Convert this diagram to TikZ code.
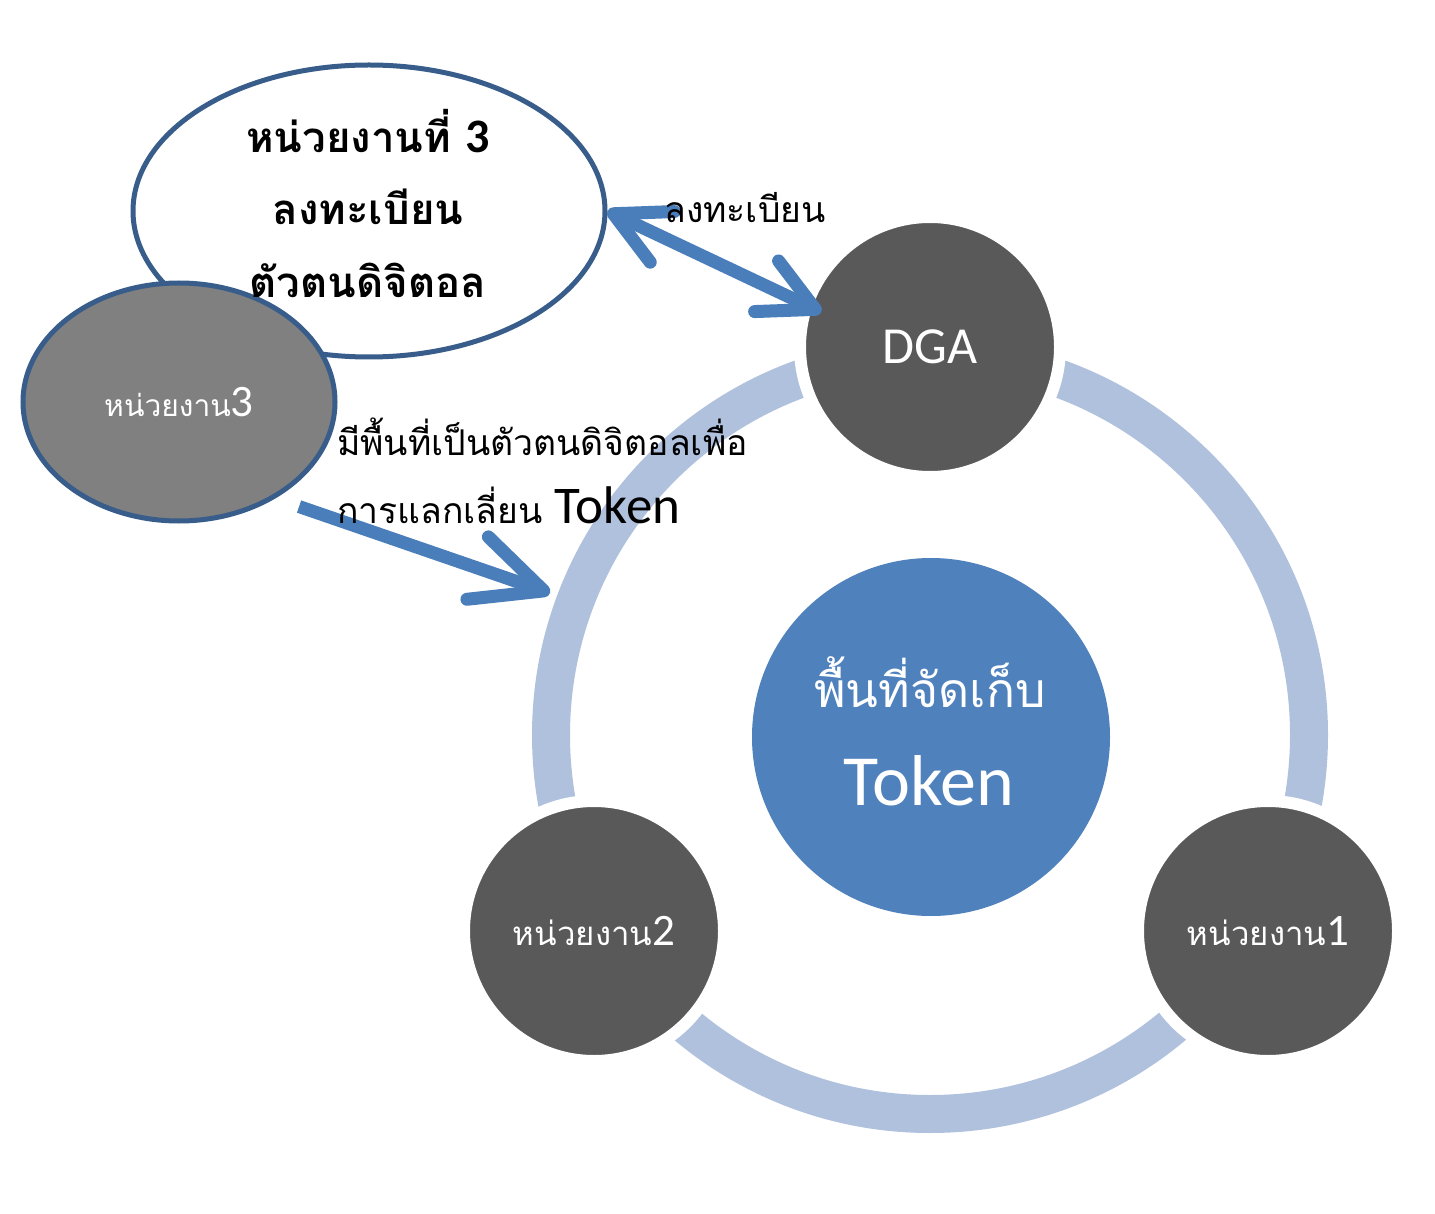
\documentclass[tikz,border=0pt]{standalone}
\usepackage{fontspec}
\newfontfamily\thai[Script=Thai]{Loma}
\newfontfamily\lat{Carlito}
\usetikzlibrary{arrows.meta,shapes.geometric}
\definecolor{ringc}{RGB}{176,193,222}
\definecolor{darkc}{RGB}{89,89,89}
\definecolor{bluec}{RGB}{79,129,189}
\definecolor{edgec}{RGB}{56,93,138}
\definecolor{greyc}{RGB}{128,128,128}
\definecolor{arrowc}{RGB}{74,126,187}
\tikzset{
  member/.style={circle, fill=darkc, draw=white, line width=12pt, minimum size=260pt, inner sep=0pt, text=white},
  thick arrow/.style={draw=arrowc, line width=13pt},
  labeltext/.style={inner sep=0pt, anchor=base},
}
\begin{document}
\begin{tikzpicture}[x=1pt,y=-1pt]
\useasboundingbox (0,0) rectangle (1435,1214);
\fill[white] (0,0) rectangle (1435,1214);
% ring
\draw[ringc, line width=38pt] (930,735) circle[radius=379pt];
\coordinate (ringhit) at (550,593);
% member circles
\node[member] (dga) at (930,347) {\lat\fontsize{52}{60}\selectfont DGA};
\node[member] (m2) at (594,931) {\thai\fontsize{33}{40}\selectfont หน่วยงาน{\lat\fontsize{45}{50}\selectfont 2}};
\node[member] (m1) at (1268,931) {\thai\fontsize{33}{40}\selectfont หน่วยงาน{\lat\fontsize{45}{50}\selectfont 1}};
% central store
\node[circle, fill=bluec, minimum size=358pt, inner sep=0pt] (store) at (931,737) {};
\node[labeltext, text=white] (storet1) at (930,707) {\thai\fontsize{48}{56}\selectfont พื้นที่จัดเก็บ};
\node[labeltext, text=white] (storet2) at (929,805) {\lat\fontsize{72}{80}\selectfont Token};
% top ellipse
\node[ellipse, fill=white, draw=edgec, line width=5pt, minimum width=472pt, minimum height=292pt, inner sep=0pt] (topell) at (369,211) {};
% grey ellipse
\node[ellipse, fill=greyc, draw=edgec, line width=5pt, minimum width=312pt, minimum height=238pt, inner sep=0pt, text=white] (grey) at (179,402) {\thai\fontsize{30}{36}\selectfont หน่วยงาน{\lat\fontsize{45}{50}\selectfont 3}};
% heading text
\node[labeltext] (h1) at (368,153) {\thai\bfseries\fontsize{42}{50}\selectfont หน่วยงานที่ {\lat\bfseries\fontsize{48}{50}\selectfont 3}};
\node[labeltext] (h2) at (368,225) {\thai\bfseries\fontsize{42}{50}\selectfont ลงทะเบียน};
\node[labeltext] (h3) at (368,298) {\thai\bfseries\fontsize{42}{50}\selectfont ตัวตนดิจิตอล};
% arrows
\draw[thick arrow, {Straight Barb[length=54pt,width=56pt,round]}-{Straight Barb[length=54pt,width=56pt,round]}, shorten >=-22pt] (topell.east) -- (dga.161);
\draw[thick arrow, -{Straight Barb[length=70pt,width=66pt,round]}, shorten <=25pt] (grey.-45) -- (ringhit);
% labels
\node[labeltext] (reg) at (745,223) {\thai\fontsize{35.5}{40}\selectfont ลงทะเบียน};
\node[labeltext, anchor=base west] (desc1) at (337,455) {\thai\fontsize{35.5}{40}\selectfont มีพื้นที่เป็นตัวตนดิจิตอลเพื่อ};
\node[labeltext, anchor=base west] (desc2) at (337,523) {\thai\fontsize{35.5}{40}\selectfont การแลกเลี่ยน {\lat\fontsize{53}{60}\selectfont Token}};
\end{tikzpicture}
\end{document}
